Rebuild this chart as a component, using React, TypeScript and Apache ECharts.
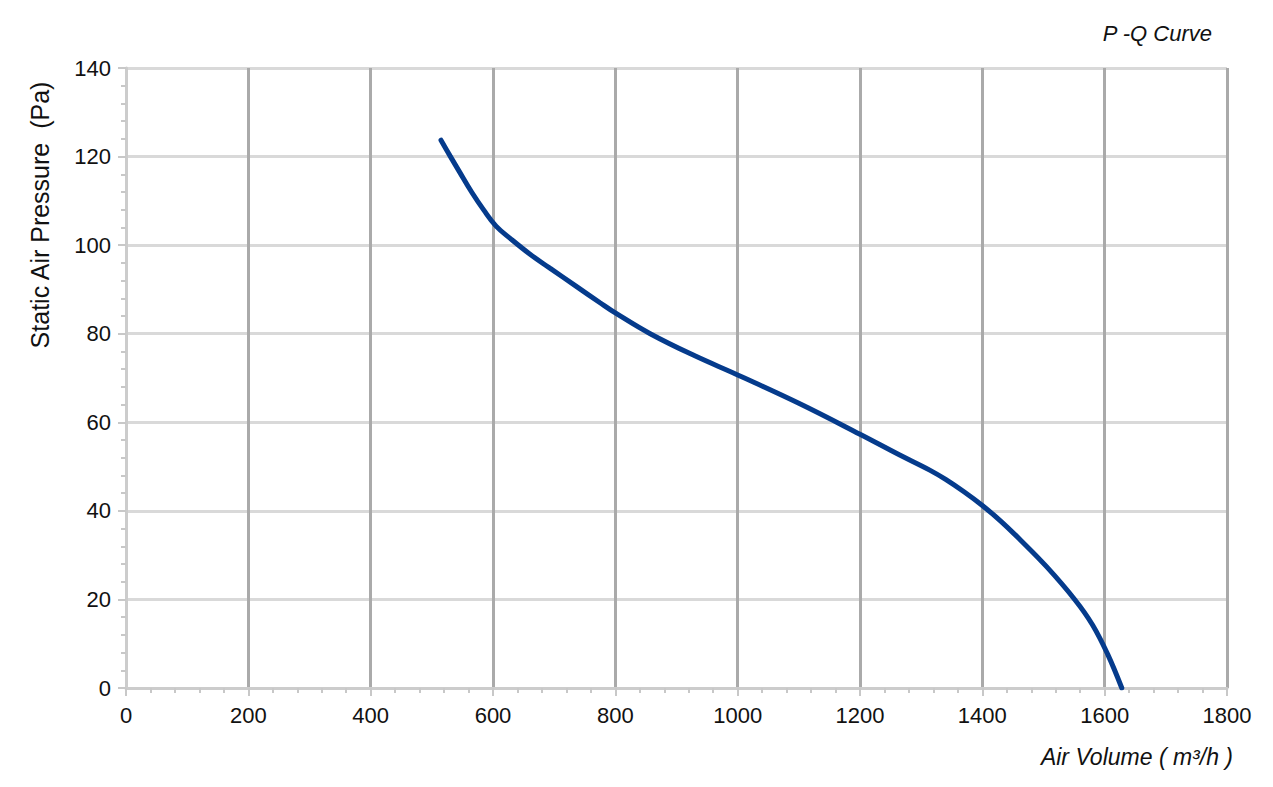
import React, { useEffect, useRef } from "react";
import * as echarts from "echarts";

const airVolume = [515, 530, 545, 565, 585, 605, 630, 660, 693, 735, 775, 800, 857, 930, 1000, 1100, 1200, 1265, 1314, 1340, 1370, 1400, 1430, 1461, 1505, 1551, 1580, 1605, 1628];
const pressure = [123.7, 120.1, 116.6, 112.0, 107.9, 104.3, 101.3, 98.0, 94.8, 90.8, 87.0, 84.7, 80.0, 75.0, 70.7, 64.3, 57.3, 52.6, 49.2, 47.1, 44.3, 41.2, 37.7, 33.6, 27.4, 20.0, 14.3, 7.6, 0];

const xTicks = [0, 200, 400, 600, 800, 1000, 1200, 1400, 1600, 1800];
const yTicks = [0, 20, 40, 60, 80, 100, 120, 140];

const chartTitle = "P -Q Curve";
const xName = "Air Volume ( m³/h )";
const yName = "Static Air Pressure  (Pa)";

export default function App() {
  const ref = useRef<HTMLDivElement>(null);
  useEffect(() => {
    if (!ref.current) return;
    const chart = echarts.init(ref.current, null, { renderer: "svg" });
    const data = airVolume.map((x, i) => [x, pressure[i]]);
    const font = "'Liberation Sans', Arial, sans-serif";
    const xStep = xTicks[1] - xTicks[0];
    const yStep = yTicks[1] - yTicks[0];
    chart.setOption({
      animation: false,
      backgroundColor: "#ffffff",
      grid: { left: 118, right: 38, top: 60, bottom: 91, containLabel: false },
      xAxis: {
        type: "value",
        min: xTicks[0],
        max: xTicks[xTicks.length - 1],
        interval: xStep,
        axisLine: { show: true, onZero: false, lineStyle: { color: "#cccccc", width: 3 } },
        axisTick: { show: true, length: 8, inside: false, lineStyle: { color: "#c8c8c8", width: 2 } },
        minorTick: { show: true, splitNumber: 5, length: 5, lineStyle: { color: "#c8c8c8", width: 2 } },
        splitLine: { show: true, lineStyle: { color: "#aaaaaa", width: 3 } },
        axisLabel: {
          color: "#111111",
          fontSize: 22,
          fontFamily: font,
          margin: 16,
          formatter: (v: number) => String(v),
        },
      },
      yAxis: {
        type: "value",
        min: yTicks[0],
        max: yTicks[yTicks.length - 1],
        interval: yStep,
        axisLine: { show: true, onZero: false, lineStyle: { color: "#cccccc", width: 3 } },
        axisTick: { show: true, length: 8, inside: false, lineStyle: { color: "#c8c8c8", width: 2 } },
        minorTick: { show: true, splitNumber: 5, length: 5, lineStyle: { color: "#c8c8c8", width: 2 } },
        splitLine: { show: true, lineStyle: { color: "#d9d9d9", width: 3 } },
        axisLabel: {
          color: "#111111",
          fontSize: 22,
          fontFamily: font,
          margin: 15,
          formatter: (v: number) => String(v),
        },
      },
      graphic: [
        {
          type: "text",
          x: 1204,
          y: 25,
          style: {
            text: chartTitle,
            fill: "#111111",
            font: `italic 22px ${font}`,
            textAlign: "right",
            textVerticalAlign: "middle",
          },
        },
        {
          type: "text",
          x: 1225,
          y: 749,
          style: {
            text: xName,
            fill: "#111111",
            font: `italic 23px ${font}`,
            textAlign: "right",
            textVerticalAlign: "middle",
          },
        },
        {
          type: "text",
          x: 32,
          y: 207,
          rotation: Math.PI / 2,
          style: {
            text: yName,
            fill: "#111111",
            font: `25px ${font}`,
            textAlign: "center",
            textVerticalAlign: "middle",
          },
        },
      ],
      series: [
        {
          type: "line",
          data,
          smooth: 0.4,
          showSymbol: false,
          lineStyle: { color: "#053b8c", width: 5, cap: "round" },
          z: 5,
        },
      ],
    });
    return () => chart.dispose();
  }, []);
  return <div ref={ref} style={{ width: 1257, height: 771 }} />;
}
